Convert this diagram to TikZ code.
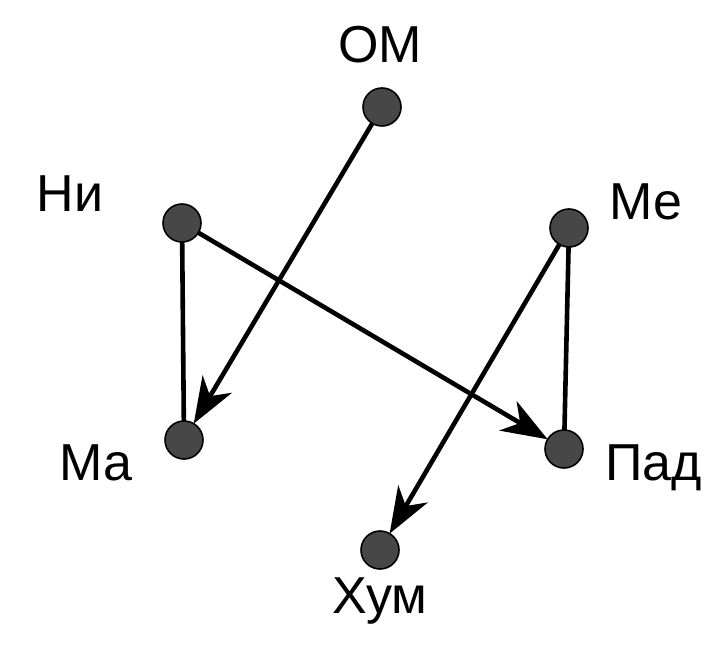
\documentclass[tikz,border=0pt]{standalone}
\usepackage{fontspec}
\setmainfont{Liberation Sans}
\usetikzlibrary{arrows.meta}
\begin{document}
\begin{tikzpicture}[x=0.5pt,y=-0.5pt,
  dot/.style={circle,draw=black,line width=0.8pt,fill=black!72,minimum size=19pt,inner sep=0pt,outer sep=0pt},
  lbl/.style={inner sep=0pt,font=\fontsize{26}{30}\selectfont},
  conn/.style={line width=2.3pt,draw=black},
  arr/.style={conn,-{Stealth[length=23pt,width=17pt,inset=7pt]}}]
\useasboundingbox (0,0) rectangle (704,646);
\node[dot] (om) at (382,107) {};
\node[dot] (ni) at (182,223) {};
\node[dot] (me) at (569,228) {};
\node[dot] (ma) at (184,440) {};
\node[dot] (pad) at (564,449) {};
\node[dot] (hum) at (380,550) {};
\node[lbl,anchor=base] (tom) at (380,63) {ОМ};
\node[lbl,anchor=base] (tni) at (70,212) {Ни};
\node[lbl,anchor=base] (tme) at (646,220) {Ме};
\node[lbl,anchor=base] (tma) at (96,480) {Ма};
\node[lbl,anchor=base west] (tpad) at (605,480) {Пад};
\node[lbl,anchor=base] (thum) at (380,613) {Хум};
\draw[conn] (ni) -- (ma);
\draw[conn] (me) -- (pad);
\draw[arr] (om) -- (ma);
\draw[arr] (ni) -- (pad);
\draw[arr] (me) -- (hum);
\end{tikzpicture}
\end{document}
